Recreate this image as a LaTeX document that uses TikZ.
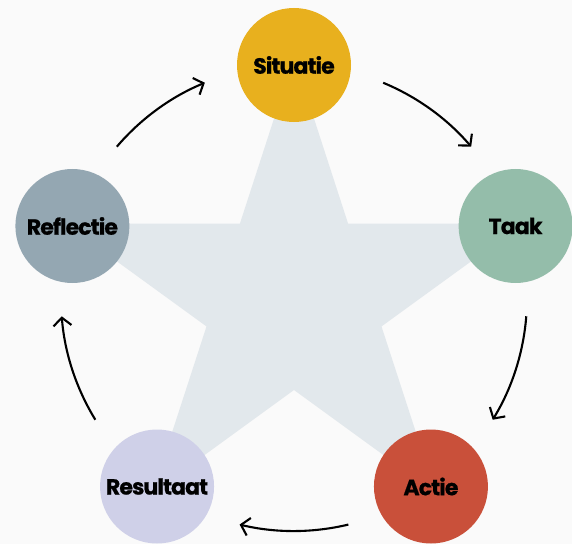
\documentclass[tikz,border=0pt]{standalone}
\usepackage{fontspec}
\setmainfont{Poppins}[BoldFont={* Bold}, BoldFeatures={FakeBold=0.8, LetterSpace=-4}]
\usetikzlibrary{arrows.meta}
\definecolor{bgc}{HTML}{FAFAFA}
\definecolor{starc}{HTML}{E2E8EC}
\definecolor{sitc}{HTML}{E8B01E}
\definecolor{taakc}{HTML}{94BDAA}
\definecolor{actc}{HTML}{C9503A}
\definecolor{resc}{HTML}{CFD0E8}
\definecolor{refc}{HTML}{94A7B2}
\tikzset{
  stepcircle/.style={circle, minimum size=114pt, inner sep=0pt, font=\bfseries\fontsize{22pt}{22pt}\selectfont, text=black},
  cyclearrow/.style={line width=2.1pt, -{Straight Barb[length=8pt,width=18pt,line width=2.1pt]}}
}
\begin{document}
\begin{tikzpicture}[x=1pt,y=1pt]
  \fill[bgc] (-294,-246) rectangle (278,298);
  \useasboundingbox (-294,-246) rectangle (278,298);
  % star
  \fill[starc] (90:241) -- (54:92) -- (18:241) -- (-18:92) -- (-54:241) -- (-90:92)
     -- (-126:241) -- (-162:92) -- (162:241) -- (126:92) -- cycle;
  % nodes
  \node[stepcircle, fill=sitc] (sit) at (90:233) {Situatie};
  \node[stepcircle, fill=taakc] (taak) at (18:233) {Taak};
  \node[stepcircle, fill=actc] (act) at (-54:233) {Actie};
  \node[stepcircle, fill=resc] (res) at (-126:233) {Resultaat};
  \node[stepcircle, fill=refc] (ref) at (162:233) {Reflectie};
  % arrows
  \coordinate (a1) at (67.5:233);
  \coordinate (a2) at (-4.5:233);
  \coordinate (a3) at (-76.5:233);
  \coordinate (a4) at (-148.5:233);
  \coordinate (a5) at (139.5:233);
  \draw[cyclearrow] (a1) arc[start angle=67.5, end angle=40.5, radius=233];
  \draw[cyclearrow] (a2) arc[start angle=-4.5, end angle=-31.5, radius=233];
  \draw[cyclearrow] (a3) arc[start angle=-76.5, end angle=-103.5, radius=233];
  \draw[cyclearrow] (a4) arc[start angle=-148.5, end angle=-175.5, radius=233];
  \draw[cyclearrow] (a5) arc[start angle=139.5, end angle=112.5, radius=233];
\end{tikzpicture}
\end{document}
